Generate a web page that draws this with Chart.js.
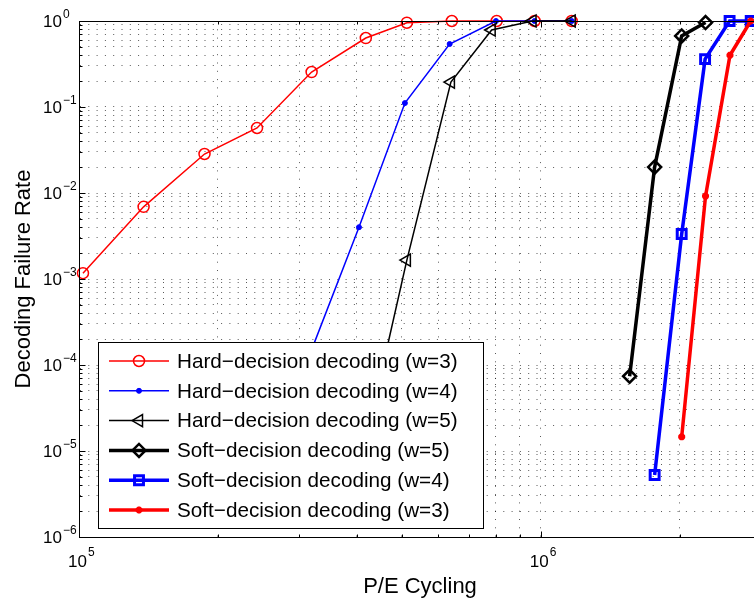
<!DOCTYPE html>
<html>
<head>
<meta charset="utf-8">
<script src="https://cdn.jsdelivr.net/npm/chart.js@4.4.1/dist/chart.umd.min.js"></script>
<style>
  html, body { margin: 0; padding: 0; background: #fff; overflow: hidden; }
  #wrap { width: 780px; height: 602px; }
</style>
</head>
<body>
<div id="wrap"><canvas id="failureChart" width="780" height="602"></canvas></div>
<script>
const X_TITLE = 'P/E Cycling';
const Y_TITLE = 'Decoding Failure Rate';
const X_RANGE = [1e5, 3e6];
const Y_RANGE = [1e-6, 1];
const X_DECADES = [1e5, 1e6];
const Y_DECADES = [1e-6, 1e-5, 1e-4, 1e-3, 1e-2, 1e-1, 1];

const seriesNames = [
  'Hard\u2212decision decoding (w=3)',
  'Hard\u2212decision decoding (w=4)',
  'Hard\u2212decision decoding (w=5)',
  'Soft\u2212decision decoding (w=5)',
  'Soft\u2212decision decoding (w=4)',
  'Soft\u2212decision decoding (w=3)'
];

// values
const hardW3Cycles = [1.02e5, 1.38e5, 1.87e5, 2.43e5, 3.19e5, 4.18e5, 5.13e5, 6.42e5, 8.03e5, 9.7e5, 1.167e6];
const hardW3Rate = [1.17e-3, 6.9e-3, 0.0284, 0.057, 0.255, 0.634, 0.955, 1, 1, 1, 1];

const hardW4Cycles = [3.19e5, 4.04e5, 5.08e5, 6.35e5, 8.0e5, 9.7e5, 1.167e6];
const hardW4Rate = [1.5e-4, 4.0e-3, 0.111, 0.54, 1, 1, 1];

const hardW5Cycles = [4.5e5, 5.13e5, 6.39e5, 7.83e5, 9.6e5, 1.167e6];
const hardW5Rate = [7.4e-5, 1.66e-3, 0.195, 0.786, 1, 1];

const softW5Cycles = [1.558e6, 1.765e6, 2.02e6, 2.275e6];
const softW5Rate = [7.4e-5, 0.020, 0.67, 0.96];

const softW4Cycles = [1.765e6, 2.02e6, 2.27e6, 2.565e6, 2.85e6];
const softW4Rate = [5.26e-6, 3.33e-3, 0.36, 1, 1];

const softW3Cycles = [2.02e6, 2.275e6, 2.57e6, 2.85e6];
const softW3Rate = [1.46e-5, 9.2e-3, 0.40, 1];

const seriesX = [hardW3Cycles, hardW4Cycles, hardW5Cycles, softW5Cycles, softW4Cycles, softW3Cycles];
const seriesY = [hardW3Rate, hardW4Rate, hardW5Rate, softW5Rate, softW4Rate, softW3Rate];

const styles = [
  { color: '#ff0000', width: 1.5, marker: 'circle', size: 5.5, markerWidth: 1.5 },
  { color: '#0000ff', width: 1.5, marker: 'circle', size: 2.5, markerWidth: 1, fill: '#0000ff' },
  { color: '#000000', width: 1.5, marker: 'triangle', size: 7, markerWidth: 1.5, rotation: -90 },
  { color: '#000000', width: 3.5, marker: 'rectRot', size: 6.5, markerWidth: 2.5 },
  { color: '#0000ff', width: 3.5, marker: 'rect', size: 6.3, markerWidth: 3 },
  { color: '#ff0000', width: 3.5, marker: 'star', size: 3.5, markerWidth: 2.5, fill: '#ff0000' }
];

const FONT = '"Liberation Sans", Arial, Helvetica, sans-serif';
const GRID_COLOR = 'rgba(0,0,0,0.65)';

const logTicks = (min, max) => {
  const out = [];
  for (let e = Math.floor(Math.log10(min)); e <= Math.ceil(Math.log10(max)); e++) {
    for (let m = 1; m < 10; m++) {
      const v = m * Math.pow(10, e);
      if (v >= min * 0.999 && v <= max * 1.001) out.push(v);
    }
  }
  return out;
};

const isDecade = (v) => Math.abs(Math.log10(v) - Math.round(Math.log10(v))) < 1e-9;

const expText = (v) => {
  const e = Math.round(Math.log10(v));
  return e < 0 ? '\u2212' + Math.abs(e) : String(e);
};

const datasets = seriesNames.map((name, i) => {
  const s = styles[i];
  const fill = s.fill || 'rgba(0,0,0,0)';
  return {
    label: name,
    data: seriesX[i].map((x, j) => ({ x: x, y: seriesY[i][j] })),
    borderColor: s.color,
    borderWidth: s.width,
    backgroundColor: fill,
    pointStyle: s.marker,
    pointRadius: s.size,
    pointHoverRadius: s.size,
    pointBorderWidth: s.markerWidth,
    pointBorderColor: s.color,
    pointBackgroundColor: fill,
    pointRotation: s.rotation || 0,
    tension: 0,
    fill: false,
    clip: false,
    order: -i
  };
});

// frame, inward ticks, legend box and the 10^n labels
const decorations = {
  id: 'decorations',
  afterDatasetsDraw(chart) {
    const { ctx, chartArea: a, scales: { x, y } } = chart;
    const line = (x1, y1, x2, y2) => {
      ctx.beginPath(); ctx.moveTo(x1, y1); ctx.lineTo(x2, y2); ctx.stroke();
    };
    ctx.save();
    ctx.strokeStyle = '#000';
    ctx.lineWidth = 1;
    const L = Math.round(a.left) + 0.5, R = Math.round(a.right) + 0.5;
    const T = Math.round(a.top) + 0.5, B = Math.round(a.bottom) + 0.5;
    ctx.strokeRect(L, T, R - L, B - T);

    x.ticks.forEach(t => {
      const px = Math.round(x.getPixelForValue(t.value)) + 0.5;
      const len = isDecade(t.value) ? 6 : 3;
      line(px, B, px, B - len);
      line(px, T, px, T + len);
    });
    y.ticks.forEach(t => {
      const py = Math.round(y.getPixelForValue(t.value)) + 0.5;
      const len = isDecade(t.value) ? 6 : 3;
      line(L, py, L + len, py);
      line(R, py, R - len, py);
    });

    // legend
    const box = { left: 98.5, top: 342.5, right: 483.5, bottom: 528.5 };
    ctx.fillStyle = '#fff';
    ctx.fillRect(box.left, box.top, box.right - box.left, box.bottom - box.top);
    ctx.strokeRect(box.left, box.top, box.right - box.left, box.bottom - box.top);
    ctx.font = '20.7px ' + FONT;
    ctx.textBaseline = 'middle';
    ctx.textAlign = 'left';
    chart.data.datasets.forEach((ds, i) => {
      const ry = 361 + i * 29.8;
      ctx.strokeStyle = ds.borderColor;
      ctx.lineWidth = ds.borderWidth;
      line(109, ry, 169, ry);
      ctx.fillStyle = ds.pointBackgroundColor;
      ctx.lineWidth = ds.pointBorderWidth;
      Chart.helpers.drawPoint(ctx, {
        pointStyle: ds.pointStyle,
        rotation: ds.pointRotation,
        radius: ds.pointRadius,
        borderWidth: ds.pointBorderWidth
      }, 139, ry);
      ctx.fillStyle = '#000';
      ctx.fillText(ds.label, 177, ry + 1);
    });

    // tick labels
    ctx.fillStyle = '#000';
    Y_DECADES.forEach(v => {
      const py = y.getPixelForValue(v);
      ctx.font = '17px ' + FONT;
      ctx.textAlign = 'right';
      ctx.fillText('10', 62, py + 1);
      ctx.font = '12px ' + FONT;
      ctx.textAlign = 'left';
      ctx.fillText(expText(v), 63, py - 6);
    });
    X_DECADES.forEach(v => {
      const px = x.getPixelForValue(v);
      ctx.font = '17px ' + FONT;
      ctx.textAlign = 'right';
      ctx.fillText('10', px + 8, 562);
      ctx.font = '12px ' + FONT;
      ctx.textAlign = 'left';
      ctx.fillText(expText(v), px + 9, 553);
    });

    // axis titles
    ctx.font = '22px ' + FONT;
    ctx.textAlign = 'center';
    ctx.textBaseline = 'alphabetic';
    ctx.fillText(X_TITLE, (a.left + a.right) / 2, 593);
    ctx.translate(30, (a.top + a.bottom) / 2);
    ctx.rotate(-Math.PI / 2);
    ctx.fillText(Y_TITLE, 0, 0);
    ctx.restore();
  }
};

const config = {
  type: 'line',
  data: { datasets: datasets },
  options: {
    responsive: false,
    animation: false,
    devicePixelRatio: 1,
    layout: { padding: { left: 79, right: 19, top: 21, bottom: 65 } },
    plugins: { legend: { display: false }, tooltip: { enabled: false }, title: { display: false } },
    scales: {
      x: {
        type: 'logarithmic',
        min: X_RANGE[0],
        max: X_RANGE[1],
        afterBuildTicks: s => { s.ticks = logTicks(X_RANGE[0], X_RANGE[1]).map(v => ({ value: v })); },
        ticks: { display: false },
        grid: { color: GRID_COLOR, lineWidth: 1, drawTicks: false },
        border: { display: true, color: '#000', width: 1, dash: [1, 7.3] }
      },
      y: {
        type: 'logarithmic',
        min: Y_RANGE[0],
        max: Y_RANGE[1],
        afterBuildTicks: s => { s.ticks = logTicks(Y_RANGE[0], Y_RANGE[1]).map(v => ({ value: v })); },
        ticks: { display: false },
        grid: { color: GRID_COLOR, lineWidth: 1, drawTicks: false },
        border: { display: true, color: '#000', width: 1, dash: [1, 7.3] }
      }
    }
  },
  plugins: [decorations]
};

window.onload = () => {
  new Chart(document.getElementById('failureChart'), config);
};
</script>
</body>
</html>
